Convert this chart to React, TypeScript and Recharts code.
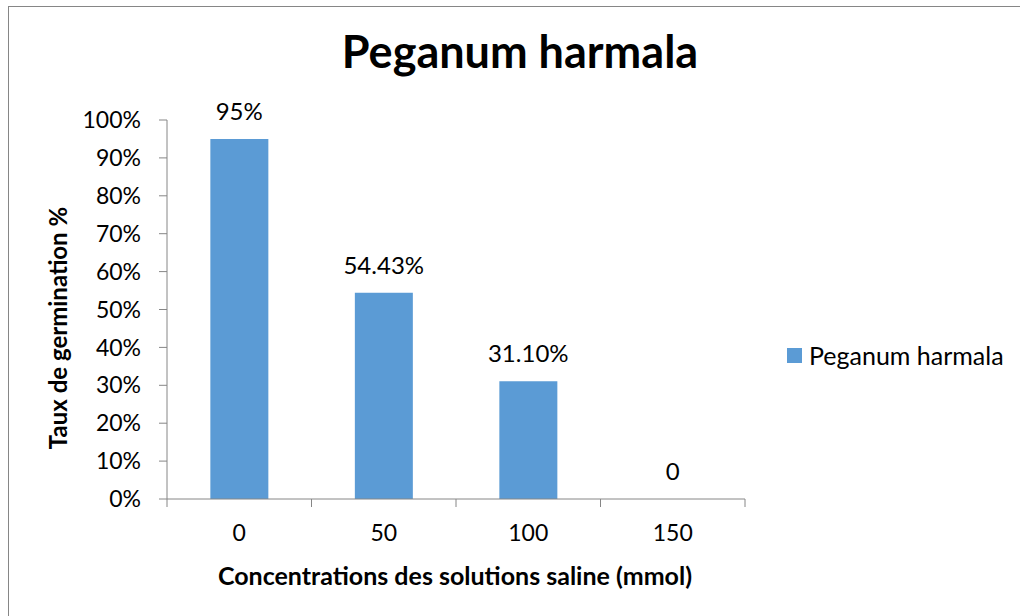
import { Bar, ComposedChart, LabelList, Line, XAxis, YAxis } from "recharts";

const concentrations = ["0", "50", "100", "150"];
const germination = [95, 54.43, 31.1, 0];
const barLabels = ["95%", "54.43%", "31.10%", "0"];
const yTicks = [0, 10, 20, 30, 40, 50, 60, 70, 80, 90, 100];
const boundaryTicks = [0, 1, 2, 3, 4];

const SERIES = "Peganum harmala";
const BAR_COLOR = "#5B9BD5";
const AXIS_COLOR = "#868686";
const FONT = "Lato, 'Open Sans', sans-serif";

const data = concentrations.map((c, i) => ({
  name: c,
  slot: i + 0.5,
  value: germination[i],
  label: barLabels[i],
}));

export default function App() {
  return (
    <div style={{ position: "absolute", left: 0, top: 0, width: 1020, height: 616, background: "#fff", overflow: "hidden", fontFamily: FONT }}>
      <div style={{ position: "absolute", left: 8, top: 6, width: 1030, height: 630, borderLeft: `1.5px solid ${AXIS_COLOR}`, borderTop: `1.5px solid ${AXIS_COLOR}` }} />

      <ComposedChart
        width={1020}
        height={616}
        data={data}
        margin={{ top: 120, right: 275, bottom: 40, left: 20 }}
        barCategoryGap="30%"
        style={{ position: "absolute", left: 0, top: 0 }}
      >
        <XAxis
          xAxisId="b"
          dataKey="name"
          height={76}
          tickLine={false}
          tickMargin={19}
          axisLine={false}
          tick={{ fill: "#000", fontSize: 23, fontFamily: FONT }}
        />
        {/* number axis only used for the tick marks between categories */}
        <XAxis
          xAxisId="a"
          type="number"
          dataKey="slot"
          domain={[0, 4]}
          ticks={boundaryTicks}
          allowDataOverflow
          height={1}
          tick={{ fontSize: 1, fill: "none" }}
          tickFormatter={() => ""}
          tickSize={8}
          axisLine={{ stroke: AXIS_COLOR }}
          tickLine={{ stroke: AXIS_COLOR }}
        />
        <YAxis
          domain={[0, 100]}
          ticks={yTicks}
          width={147}
          tickSize={8}
          tickMargin={18}
          tickFormatter={(v: number) => `${v}%`}
          axisLine={{ stroke: AXIS_COLOR }}
          tickLine={{ stroke: AXIS_COLOR }}
          tick={{ fill: "#000", fontSize: 23, fontFamily: FONT }}
        />
        <Bar xAxisId="b" dataKey="value" name={SERIES} fill={BAR_COLOR} isAnimationActive={false} />
        {/* invisible line carries the data labels so the zero bar still gets its "0" */}
        <Line
          xAxisId="b"
          dataKey="value"
          stroke="none"
          dot={false}
          activeDot={false}
          legendType="none"
          isAnimationActive={false}
        >
          <LabelList dataKey="label" position="top" offset={19} fill="#000" fontSize={24} fontFamily={FONT} />
        </Line>
      </ComposedChart>

      <svg width={1020} height={616} style={{ position: "absolute", left: 0, top: 0, pointerEvents: "none" }}>
        <text x={520} y={68} textAnchor="middle" fontSize={45} fontWeight={700} fontFamily={FONT} fill="#000">
          Peganum harmala
        </text>
        <text x={455} y={585} textAnchor="middle" fontSize={25} fontWeight={700} fontFamily={FONT} fill="#000">
          Concentrations des solutions saline (mmol)
        </text>
        <text
          x={0}
          y={0}
          transform="translate(67 328) rotate(-90)"
          textAnchor="middle"
          fontSize={24}
          fontWeight={700}
          fontFamily={FONT}
          fill="#000"
        >
          Taux de germination %
        </text>
      </svg>

      <div style={{ position: "absolute", left: 787, top: 340, height: 30, display: "flex", alignItems: "center", fontSize: 25, color: "#000", whiteSpace: "nowrap" }}>
        <span style={{ display: "inline-block", width: 15, height: 15, background: BAR_COLOR, marginRight: 7 }} />
        {SERIES}
      </div>
    </div>
  );
}
